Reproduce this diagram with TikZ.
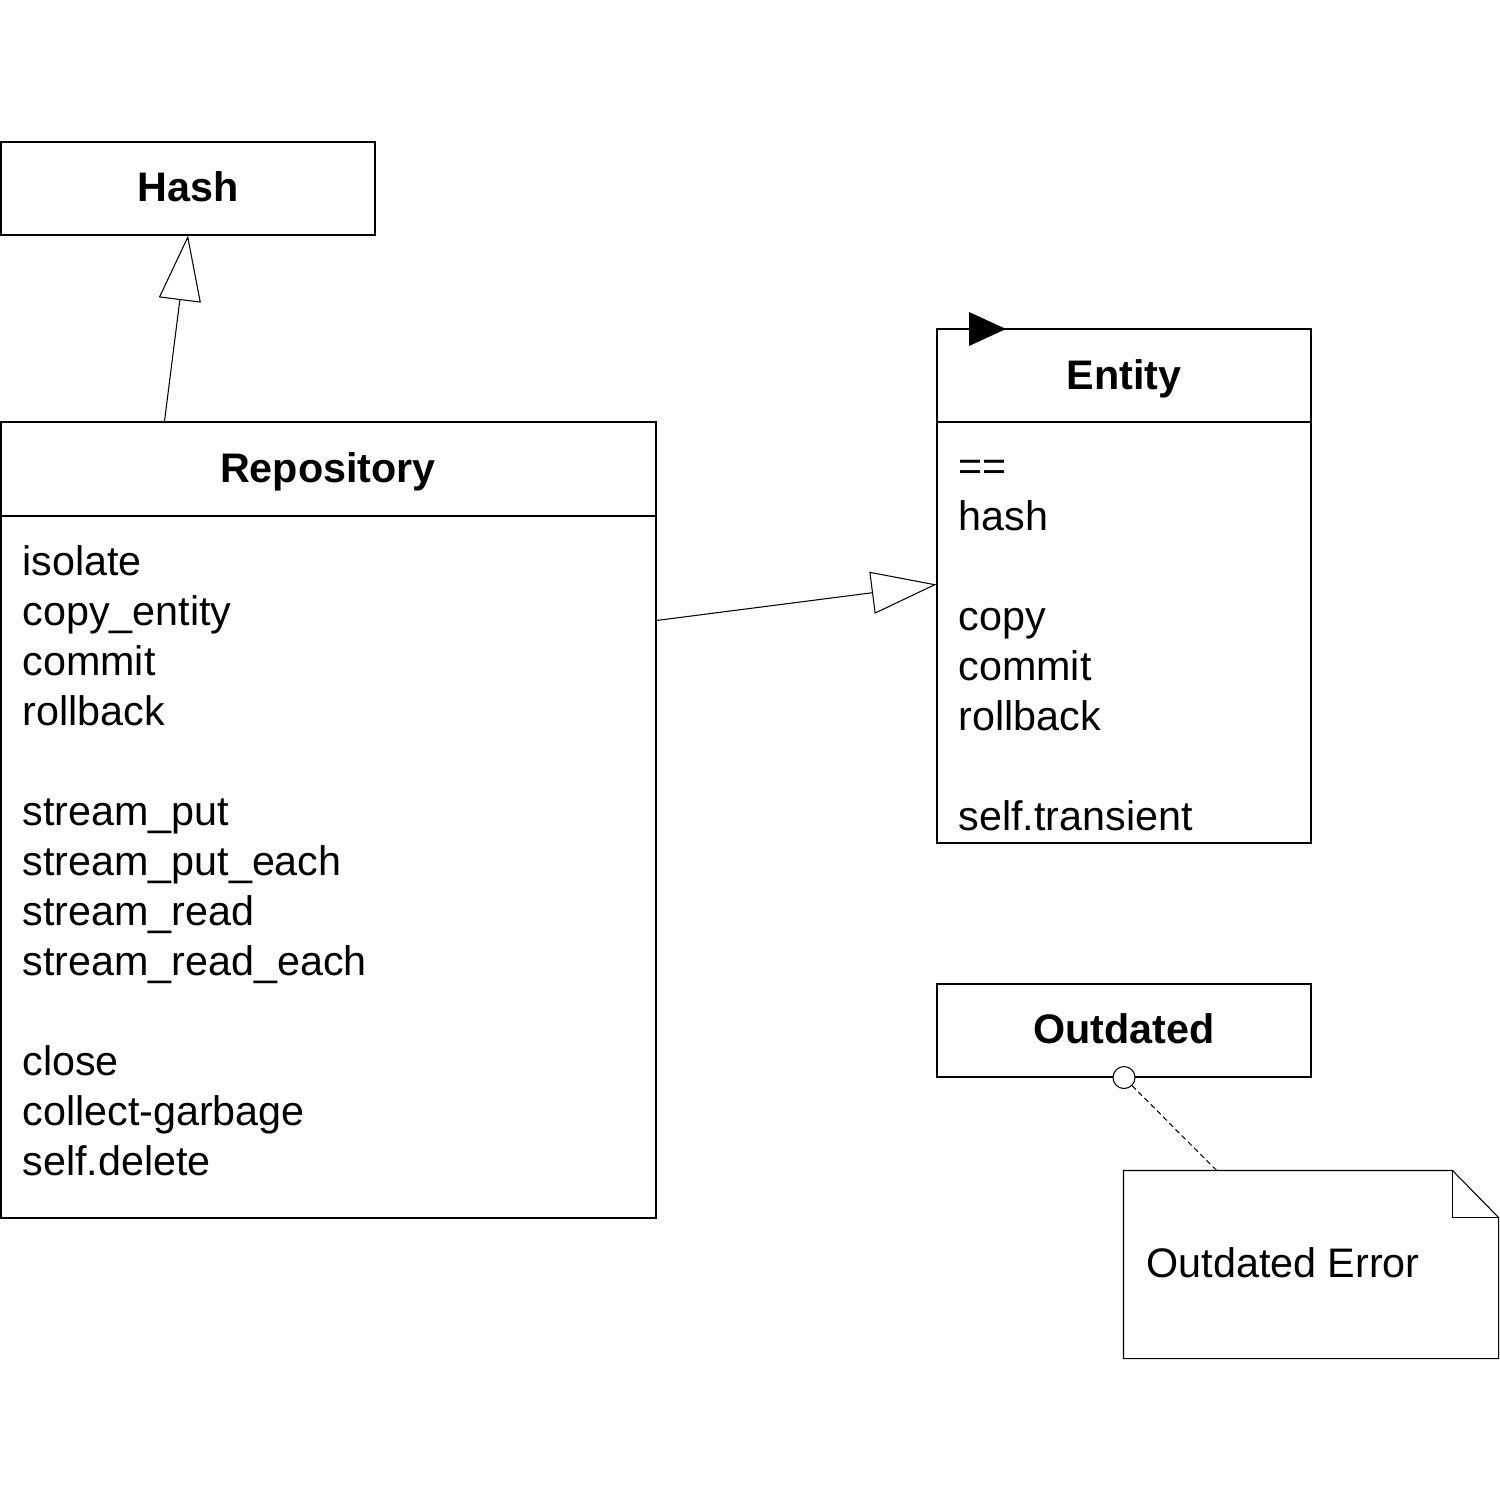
\documentclass[tikz,border=0pt]{standalone}
\usepackage{fontspec}
\setmainfont{Liberation Sans}
\usetikzlibrary{arrows.meta,calc,fit}
\begin{document}
\begin{tikzpicture}[x=0.02cm,y=-0.02cm,
  line width=0.6pt,
  box/.style={draw,inner sep=0pt},
  area/.style={inner sep=0pt},
  title/.style={anchor=base,inner sep=0pt,font=\fontsize{23.5}{28.35}\selectfont\bfseries},
  member/.style={anchor=base west,inner sep=0pt,font=\fontsize{23.5}{28.35}\selectfont},
  inherit/.style={-{Triangle[open,length=37pt,width=24pt,fill=white]}},
  ifaceport/.style={circle,draw,fill=white,minimum size=0.44cm,inner sep=0pt}]
\useasboundingbox (0,0) rectangle (1500,1500);

% Hash
\node[box,fit={(1,142)(375,235)}] (hash) {};
\node[title] (hasht) at (188,202) {Hash};

% Repository
\node[box,fit={(1,422)(656,516)}] (repohead) {};
\node[box,fit={(1,516)(656,1218)}] (repobody) {};
\node[title] (repot) at (328,482) {Repository};
\foreach \t/\y [count=\i] in {isolate/575, copy\_entity/625, commit/675, rollback/725,
    stream\_put/825, stream\_put\_each/875, stream\_read/925, stream\_read\_each/975,
    close/1075, collect-garbage/1125, self.delete/1175}
  \node[member] (rop\i) at (22,\y) {\t};

% Entity
\node[box,fit={(937,329)(1311,422)}] (enthead) {};
\node[box,fit={(937,422)(1311,843)}] (entbody) {};
\node[title] (entt) at (1124,389) {Entity};
\fill (969,312) -- (1006,329) -- (969,346) -- cycle;
\foreach \t/\y [count=\i] in {==/480, hash/530, copy/630, commit/680, rollback/730, self.transient/830}
  \node[member] (eop\i) at (958,\y) {\t};

% Outdated
\node[box,fit={(937,984)(1311,1077)}] (outd) {};
\node[title] (outdt) at (1124,1043) {Outdated};
\node[ifaceport] (port) at (outd.south) {};

% Note
\node[area,fit={(1124,1171)(1498,1358)}] (note) {};
\draw (note.north west) -- ($(note.north east)+(-46,0)$) -- ($(note.north east)+(0,47)$)
  -- (note.south east) -- (note.south west) -- cycle;
\draw ($(note.north east)+(-46,0)$) -- ($(note.north east)+(-46,47)$) -- ($(note.north east)+(0,47)$);
\node[member] (notet) at (1146,1277) {Outdated Error};

% Connectors
\draw[inherit] ($(repohead.north west)+(164,0)$) -- (hash.south);
\draw[inherit] ($(repobody.north east)+(0,105)$) -- ($(entbody.north west)+(0,163)$);
\draw[dashed,dash pattern=on 3pt off 2pt] (port) -- ($(note.north west)+(93,0)$);
\end{tikzpicture}
\end{document}
